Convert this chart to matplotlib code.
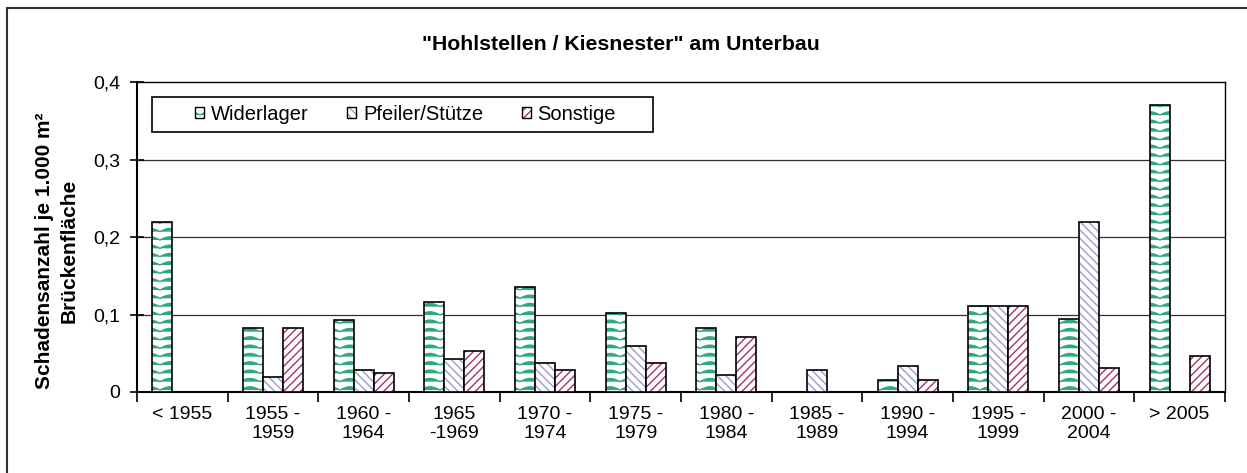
import warnings
import numpy as np
import matplotlib
matplotlib.use('Agg')
import matplotlib.pyplot as plt
from matplotlib import hatch as mhatch
from matplotlib.path import Path
from matplotlib.patches import Patch, Rectangle
from matplotlib.colors import to_rgba
from matplotlib.ticker import FuncFormatter

warnings.filterwarnings('ignore')

# Daten
kategorien = ['< 1955', '1955 -\n1959', '1960 -\n1964', '1965\n-1969', '1970 -\n1974',
              '1975 -\n1979', '1980 -\n1984', '1985 -\n1989', '1990 -\n1994',
              '1995 -\n1999', '2000 -\n2004', '> 2005']
widerlager = [0.220, 0.083, 0.093, 0.116, 0.135, 0.102, 0.082, 0.0, 0.016, 0.111, 0.094, 0.370]
pfeiler = [0.0, 0.020, 0.028, 0.042, 0.038, 0.060, 0.022, 0.029, 0.034, 0.111, 0.220, 0.0]
sonstige = [0.0, 0.083, 0.024, 0.053, 0.028, 0.038, 0.071, 0.0, 0.016, 0.111, 0.031, 0.046]
serien = ['Widerlager', 'Pfeiler/Stütze', 'Sonstige']


# eigenes Wellen-Muster fuer die Widerlager-Balken ('~')
class WellenHatch(mhatch.HatchPatternBase):
    def __init__(self, hatch, density):
        self.num_rows = int(hatch.count('~') * density)
        self.n_per = max(1, int(round(self.num_rows * 5 / 12)))
        self.pts = self.n_per * 12 + 1
        self.num_vertices = self.num_rows * self.pts

    def set_vertices_and_codes(self, vertices, codes):
        x = np.linspace(0, 1, self.pts)
        amp = 0.032
        for i in range(self.num_rows):
            y = (i + 0.2) / self.num_rows + amp * np.abs(np.sin(np.pi * x * self.n_per))
            vertices[i * self.pts:(i + 1) * self.pts, 0] = x
            vertices[i * self.pts:(i + 1) * self.pts, 1] = y
            codes[i * self.pts] = Path.MOVETO
            codes[i * self.pts + 1:(i + 1) * self.pts] = Path.LINETO


mhatch._hatch_types.append(WellenHatch)

plt.rcParams['font.family'] = ['Liberation Sans', 'DejaVu Sans']
plt.rcParams['hatch.linewidth'] = 1.0

farben = ['#2fa97c', '#9c9cd4', '#a8326e']
muster = ['~~', '\\\\\\\\', '////']

fig = plt.figure(figsize=(12.47, 4.73), dpi=100)
ax = fig.add_axes([137 / 1247, 1 - 392 / 473, (1225 - 137) / 1247, (392 - 82) / 473])

x = np.arange(len(kategorien))
breite = 0.22
for k, werte in enumerate([widerlager, pfeiler, sonstige]):
    bars = ax.bar(x + (k - 1) * breite, werte, breite, color='white', edgecolor='black',
                  linewidth=1.2, hatch=muster[k], zorder=3)
    for b, v in zip(bars, werte):
        b._hatch_color = to_rgba(farben[k])
        if v == 0:
            b.set_visible(False)

ax.set_xlim(-0.5, len(kategorien) - 0.5)
ax.set_ylim(0, 0.4)
ax.set_yticks([0, 0.1, 0.2, 0.3, 0.4])
ax.yaxis.set_major_formatter(FuncFormatter(lambda v, p: '0' if v == 0 else f'{v:.1f}'.replace('.', ',')))
ax.tick_params(axis='y', direction='inout', length=10, width=1.2, labelsize=14, pad=7)
ax.set_xticks(x)
ax.set_xticklabels(kategorien, fontsize=14, linespacing=1.2)
ax.tick_params(axis='x', length=0, pad=10)
ax.set_xticks(np.arange(-0.5, len(kategorien)), minor=True)
ax.tick_params(axis='x', which='minor', length=7, width=1.2, direction='out')

for yv in [0.1, 0.2, 0.3]:
    ax.axhline(yv, color='#303030', linewidth=0.9, zorder=1)
for s in ['left', 'bottom']:
    ax.spines[s].set_linewidth(1.5)
for s in ['top', 'right']:
    ax.spines[s].set_linewidth(1.0)

ax.set_ylabel('Schadensanzahl je 1.000 m²\nBrückenfläche', fontsize=15, fontweight='bold',
              linespacing=1.35)
ax.yaxis.set_label_coords(-0.054, 0.455)

fig.text(621 / 1247, 1 - 45 / 473, '"Hohlstellen / Kiesnester" am Unterbau', ha='center', va='center',
         fontsize=15.3, fontweight='bold')

# Legende: Rahmen separat, Eintraege mittig darin
lx0, lx1, ly0, ly1 = 152 / 1247, 653 / 1247, 1 - 132 / 473, 1 - 97 / 473
fig.patches.append(Rectangle((lx0, ly0), lx1 - lx0, ly1 - ly0, transform=fig.transFigure,
                             fill=False, edgecolor='black', linewidth=1.2))
handles = []
for k in range(3):
    h = Patch(facecolor='white', edgecolor='black', hatch=muster[k], linewidth=1.0, label=serien[k])
    h._hatch_color = to_rgba(farben[k])
    handles.append(h)
fig.legend(handles=handles, ncol=3, loc='center',
           bbox_to_anchor=((lx0 + lx1) / 2 + 3 / 1247, (ly0 + ly1) / 2),
           fontsize=14.5, frameon=False, handlelength=0.45, handleheight=0.45,
           handletextpad=0.35, columnspacing=1.9, borderpad=0, borderaxespad=0)

fig.patches.append(Rectangle((7 / 1247, -0.5), 1.5, 0.5 + 1 - 8 / 473, transform=fig.transFigure,
                             fill=False, edgecolor='#303030', linewidth=1.5))

fig.savefig('out.png', dpi=100)
